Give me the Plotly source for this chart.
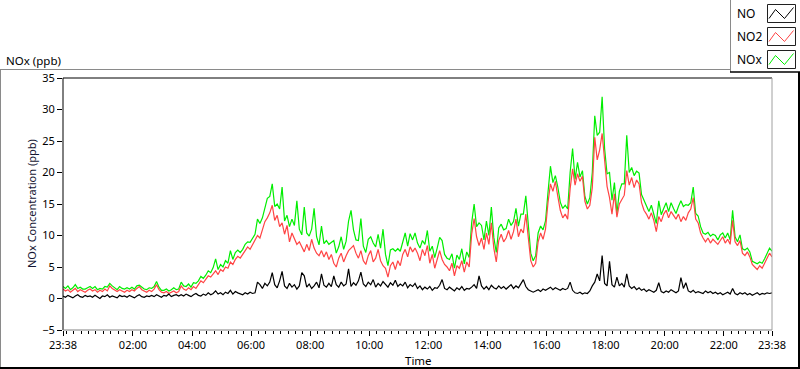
import pandas as pd
import plotly.graph_objects as go

# ---------------- data (5-minute samples, starting 23:38) ----------------
start_time = "2000-01-01 23:38"
sample_minutes = 5

no2_ppb = [
    1.5, 1.2, 1.4, 1.0, 1.3, 1.6, 1.1, 1.4, 1.2, 1.0, 1.3, 1.5,
    1.2, 1.4, 1.0, 1.3, 1.1, 1.5, 1.2, 2.0, 1.6, 1.3, 1.1, 1.4,
    1.2, 1.0, 1.3, 1.1, 1.4, 1.2, 1.6, 1.9, 1.4, 1.2, 1.0, 1.3,
    1.1, 1.5, 2.2, 1.4, 1.0, 0.9, 1.1, 0.8, 1.0, 1.2, 0.9, 1.1,
    2.0, 1.5, 1.3, 1.7, 1.4, 1.9, 1.6, 2.2, 2.8, 2.5, 3.1, 3.6,
    3.4, 4.0, 4.4, 3.8, 4.6, 4.3, 5.0, 4.8, 5.8, 5.4, 6.2, 6.7,
    6.4, 7.0, 7.6, 8.2, 7.8, 8.6, 9.2, 10.0, 9.6, 11.0, 12.2, 12.8,
    13.6, 14.8, 12.4, 13.2, 11.4, 12.0, 10.2, 11.6, 9.0, 10.4, 9.4, 8.6,
    9.0, 8.2, 7.4, 8.6, 7.6, 9.4, 8.0, 7.2, 6.8, 7.6, 6.6, 7.4,
    6.2, 7.0, 5.6, 5.0, 6.4, 7.2, 5.8, 6.8, 7.6, 8.0, 8.4, 7.2,
    6.4, 7.6, 6.0, 5.4, 6.8, 7.6, 5.8, 6.4, 7.8, 6.0, 5.2, 4.8,
    3.4, 5.2, 5.8, 4.6, 6.0, 5.2, 7.0, 7.8, 6.6, 8.2, 7.4, 8.0,
    7.2, 6.0, 7.8, 6.8, 8.4, 5.6, 7.0, 4.8, 6.4, 7.6, 6.2, 5.4,
    5.0, 4.4, 5.6, 3.6, 5.2, 4.8, 6.0, 4.2, 5.8, 5.0, 10.2, 12.7,
    9.8, 8.4, 9.6, 7.8, 10.4, 8.6, 12.0, 8.0, 5.8, 9.2, 10.2, 9.0,
    9.6, 10.8, 9.4, 10.6, 12.6, 9.8, 11.0, 10.4, 13.4, 9.6, 6.0, 5.0,
    5.6, 9.0, 10.4, 9.4, 11.0, 15.2, 18.2, 17.0, 18.6, 16.2, 14.0, 12.8,
    13.4, 12.6, 17.4, 20.6, 18.0, 19.8, 18.6, 19.4, 15.4, 14.2, 14.8, 17.6,
    25.6, 22.0, 23.6, 26.2, 21.4, 17.8, 16.0, 13.4, 16.6, 12.9, 15.0, 15.8,
    16.4, 20.3, 18.0, 19.2, 17.6, 18.8, 18.2, 15.2, 14.0, 13.4, 12.6, 13.6,
    12.4, 10.6, 13.0, 12.2, 13.4, 14.0, 12.8, 13.8, 13.2, 12.6, 13.4, 12.2,
    13.0, 12.4, 13.6, 14.2, 16.0, 12.6, 12.0, 10.4, 9.6, 9.0, 9.6, 8.8,
    9.4, 9.0, 8.6, 9.2, 9.8, 8.8, 9.4, 8.6, 12.4, 9.0, 8.4, 9.2,
    7.2, 6.8, 7.4, 6.6, 5.4, 5.0, 4.6, 5.2, 4.8, 5.6, 6.4, 7.2, 6.6,
]

nox_ppb = [
    1.9, 1.6, 2.0, 1.4, 1.7, 2.2, 1.6, 1.8, 1.5, 1.5, 1.7, 1.9,
    1.6, 1.9, 1.4, 1.6, 1.5, 1.9, 1.8, 2.4, 2.0, 1.7, 1.4, 1.9,
    1.6, 1.5, 1.7, 1.5, 1.8, 1.5, 2.0, 2.1, 1.8, 1.5, 1.4, 1.7,
    1.6, 1.9, 2.7, 1.8, 1.3, 1.3, 1.5, 1.2, 1.4, 1.7, 1.4, 1.5,
    2.6, 2.0, 1.9, 2.3, 1.8, 2.5, 2.4, 2.8, 3.5, 3.2, 3.7, 4.4,
    4.1, 4.9, 6.3, 4.6, 5.4, 5.0, 6.0, 5.6, 7.6, 6.2, 7.3, 7.7,
    7.3, 7.8, 8.6, 9.0, 8.9, 9.5, 10.2, 12.6, 11.9, 12.8, 14.6, 15.9,
    16.2, 18.2, 14.6, 15.0, 14.2, 17.7, 12.3, 13.2, 11.4, 12.6, 11.6, 15.5,
    11.0, 10.1, 14.5, 10.4, 9.9, 11.0, 14.3, 9.8, 8.5, 11.5, 8.7, 9.2,
    8.6, 8.9, 9.2, 7.2, 8.2, 9.8, 7.8, 9.1, 12.3, 14.0, 10.9, 9.3,
    9.2, 12.7, 8.3, 7.3, 9.4, 9.8, 8.8, 8.2, 10.2, 8.0, 11.0, 7.0,
    5.2, 7.7, 7.9, 7.5, 7.9, 7.5, 9.0, 10.4, 8.3, 10.3, 9.3, 10.4,
    8.8, 8.0, 9.2, 8.6, 10.8, 7.5, 8.3, 6.5, 8.0, 9.7, 9.2, 7.0,
    6.4, 6.2, 7.1, 4.8, 6.9, 6.2, 7.9, 5.5, 7.4, 6.5, 12.0, 15.0,
    11.4, 12.0, 11.6, 9.3, 12.3, 10.0, 14.5, 9.7, 7.3, 11.2, 11.8, 10.9,
    11.1, 12.6, 11.6, 12.2, 14.3, 11.5, 13.4, 13.4, 16.3, 11.0, 7.2, 6.0,
    6.8, 10.4, 11.5, 10.9, 12.3, 16.8, 21.0, 18.4, 19.5, 17.7, 15.3, 14.3,
    14.8, 14.2, 20.0, 23.8, 18.9, 21.6, 19.3, 20.3, 16.2, 15.0, 16.0, 20.0,
    29.0, 25.9, 26.4, 32.0, 23.8, 19.8, 20.0, 15.6, 18.4, 13.5, 17.0, 18.2,
    18.2, 25.9, 20.0, 20.8, 19.5, 20.2, 19.9, 16.5, 15.5, 14.5, 13.8, 14.8,
    13.4, 11.9, 15.5, 13.3, 14.3, 15.2, 13.8, 15.2, 14.3, 13.5, 14.6, 15.5,
    14.6, 14.9, 14.8, 15.2, 17.7, 13.5, 13.1, 11.4, 10.4, 10.2, 10.5, 9.9,
    10.2, 10.0, 9.3, 10.1, 10.4, 9.6, 10.4, 9.3, 14.0, 9.8, 9.0, 10.1,
    7.9, 7.7, 8.0, 7.4, 5.9, 5.7, 5.5, 5.8, 5.6, 6.3, 7.3, 8.0, 7.5,
]

no_ppb = [
    0.4, 0.2, 0.5, 0.3, 0.1, 0.4, 0.6, 0.3, 0.2, 0.5, 0.3, 0.4,
    0.2, 0.5, 0.3, 0.0, 0.4, 0.3, 0.6, 0.2, 0.4, 0.3, 0.1, 0.5,
    0.3, 0.4, 0.2, 0.5, 0.3, 0.1, 0.4, 0.6, 0.3, 0.2, 0.4, 0.3,
    0.5, 0.3, 0.6, 0.4, 0.2, 0.5, 0.4, 0.7, 0.3, 0.5, 0.6, 0.4,
    0.6, 0.4, 0.7, 0.5, 0.3, 0.6, 0.8, 0.5, 0.4, 0.7, 0.5, 0.9,
    0.6, 0.8, 1.2, 0.7, 0.9, 0.6, 1.0, 0.8, 1.3, 0.7, 1.1, 0.9,
    0.8, 0.6, 0.9, 0.7, 1.0, 0.8, 0.9, 2.6, 2.2, 1.6, 2.4, 2.0,
    2.6, 4.1, 2.2, 1.7, 2.8, 4.3, 2.0, 1.6, 2.4, 1.8, 2.2, 1.5,
    2.0, 4.1, 3.6, 1.8, 2.3, 1.6, 2.0, 2.6, 1.7, 3.9, 2.1, 1.8,
    2.4, 1.9, 3.6, 2.2, 1.8, 2.6, 2.0, 2.3, 4.7, 1.9, 2.5, 2.1,
    2.8, 4.2, 2.3, 1.9, 2.6, 2.2, 3.0, 1.8, 2.4, 2.0, 2.7, 2.2,
    1.8, 2.5, 2.1, 2.9, 1.9, 2.3, 2.0, 2.6, 1.7, 2.2, 1.9, 2.4,
    1.6, 2.0, 1.4, 1.8, 1.5, 1.9, 1.3, 1.7, 1.6, 2.1, 3.0, 1.6,
    1.4, 1.8, 1.5, 1.2, 1.7, 1.4, 1.9, 1.3, 1.6, 1.5, 1.8, 2.2,
    1.6, 3.6, 2.0, 1.5, 1.9, 1.4, 2.1, 1.7, 1.5, 2.0, 1.6, 1.9,
    1.5, 1.8, 2.2, 1.6, 2.0, 1.7, 2.4, 3.0, 1.9, 1.4, 1.2, 1.0,
    1.2, 1.4, 1.1, 1.5, 1.3, 1.6, 1.8, 1.4, 1.7, 1.5, 1.3, 1.6,
    1.4, 1.6, 2.6, 1.3, 0.9, 0.8, 1.0, 0.7, 0.9, 0.8, 1.2, 2.0,
    2.6, 3.9, 2.8, 6.8, 2.4, 2.0, 5.9, 2.2, 1.8, 3.4, 2.0, 2.4,
    1.8, 3.9, 2.0, 1.6, 1.9, 1.4, 1.7, 1.3, 1.5, 1.1, 1.4, 1.2,
    1.0, 1.3, 2.5, 1.1, 0.9, 1.2, 1.0, 1.4, 1.1, 0.9, 1.2, 3.3,
    1.6, 2.5, 1.2, 1.0, 1.3, 0.9, 1.1, 1.0, 0.8, 1.2, 0.9, 1.1,
    0.8, 1.0, 0.7, 0.9, 0.6, 0.8, 1.0, 0.7, 1.6, 0.8, 0.6, 0.9,
    0.7, 0.9, 0.6, 0.8, 0.5, 0.7, 0.9, 0.6, 0.8, 0.7, 0.9, 0.8, 0.9,
]

series_names = ["NO", "NO2", "NOx"]
x_tick_times = ["2000-01-01 23:38", "2000-01-02 02:00", "2000-01-02 04:00",
                "2000-01-02 06:00", "2000-01-02 08:00", "2000-01-02 10:00",
                "2000-01-02 12:00", "2000-01-02 14:00", "2000-01-02 16:00",
                "2000-01-02 18:00", "2000-01-02 20:00", "2000-01-02 22:00",
                "2000-01-02 23:38"]
x_tick_labels = ["23:38", "02:00", "04:00", "06:00", "08:00", "10:00", "12:00",
                 "14:00", "16:00", "18:00", "20:00", "22:00", "23:38"]
y_tick_values = [-5, 0, 5, 10, 15, 20, 25, 30, 35]

# ---------------- styling / layout ----------------
times = pd.date_range(start_time, periods=len(no2_ppb), freq=f"{sample_minutes}min")

W, H = 800, 369
L, R, T, B = 63, 772, 78, 330  # plot area in pixels
FONT = "Noto Sans"
COL = {"NO": "#000000", "NO2": "#ff4444", "NOx": "#00ee00"}


def px(x):
    return (x - L) / (R - L)


def py(y):
    return (B - y) / (B - T)


fig = go.Figure()
fig.add_trace(go.Scatter(x=times, y=nox_ppb, mode="lines", name="NOx",
                         line=dict(color=COL["NOx"], width=1.2)))
fig.add_trace(go.Scatter(x=times, y=no2_ppb, mode="lines", name="NO2",
                         line=dict(color=COL["NO2"], width=1.2)))
fig.add_trace(go.Scatter(x=times, y=no_ppb, mode="lines", name="NO",
                         line=dict(color=COL["NO"], width=1.2)))

shapes = []


def hline(x0, x1, y, color, w=1):
    shapes.append(dict(type="line", xref="paper", yref="paper",
                       x0=px(x0), x1=px(x1), y0=py(y), y1=py(y),
                       line=dict(color=color, width=w)))


def vline(x, y0, y1, color, w=1):
    shapes.append(dict(type="line", xref="paper", yref="paper",
                       x0=px(x), x1=px(x), y0=py(y0), y1=py(y1),
                       line=dict(color=color, width=w)))


# outer frame
hline(0, 730, 69.5, "#8a8a8a")
vline(0.5, 69.5, 369, "#8a8a8a")
hline(0, 800, 368, "#000000", 2)
vline(799, 72, 369, "#000000", 2)
# legend box frame
vline(730.5, 0, 72, "#8a8a8a")
hline(730, 800, 72, "#000000", 1.5)
# plot area frame
hline(L, R, T, "#000000")
vline(L, T, B, "#000000")
hline(L, R, B, "#808080")
vline(R, T, B, "#a0a0a0")

annotations = []
# legend swatches
legend_rows = [(13.5, "NO"), (36.5, "NO2"), (59.5, "NOx")]
for yc, name in legend_rows:
    shapes.append(dict(type="rect", xref="paper", yref="paper",
                       x0=px(767.5), x1=px(795.5), y0=py(yc - 9), y1=py(yc + 9),
                       line=dict(color="#202020", width=1), fillcolor="white"))
    pts = [(769, yc + 5), (775.5, yc - 4), (784.5, yc + 5), (793.5, yc - 6)]
    path = "M " + " L ".join(f"{px(a)},{py(b)}" for a, b in pts)
    shapes.append(dict(type="path", xref="paper", yref="paper", path=path,
                       line=dict(color=COL[name], width=1)))
    annotations.append(dict(text=name, xref="paper", yref="paper",
                            x=px(735), y=py(yc), xanchor="left", yanchor="middle",
                            showarrow=False, font=dict(family=FONT, size=12, color="#000")))

annotations.append(dict(text="NOx (ppb)", xref="paper", yref="paper",
                        x=px(4), y=py(60), xanchor="left", yanchor="middle",
                        showarrow=False, font=dict(family=FONT, size=11.5, color="#000")))
annotations.append(dict(text="NOx Concentration (ppb)", xref="paper", yref="paper",
                        x=px(31), y=py(204), xanchor="center", yanchor="middle",
                        textangle=-90, showarrow=False,
                        font=dict(family=FONT, size=11, color="#141432")))
annotations.append(dict(text="Time", xref="paper", yref="paper",
                        x=px(418), y=py(360), xanchor="center", yanchor="middle",
                        showarrow=False, font=dict(family=FONT, size=11.5, color="#000")))

fig.update_layout(
    width=W, height=H,
    margin=dict(l=L, r=W - R, t=T, b=H - B, pad=0),
    paper_bgcolor="white", plot_bgcolor="white",
    showlegend=False, hovermode=False,
    shapes=shapes, annotations=annotations,
    font=dict(family=FONT, size=11, color="#000"),
    xaxis=dict(
        type="date",
        range=[x_tick_times[0], x_tick_times[-1]],
        tickmode="array", tickvals=x_tick_times, ticktext=x_tick_labels,
        ticks="outside", ticklen=5, tickcolor="#000", tickwidth=1,
        showgrid=False, zeroline=False, showline=False,
        tickfont=dict(family=FONT, size=11, color="#000"),
        minor=dict(tickmode="linear", tick0="2000-01-01 23:45", dtick=15 * 60 * 1000,
                   ticks="outside", ticklen=3, tickcolor="#000", showgrid=False),
        fixedrange=True,
    ),
    yaxis=dict(
        range=[-5, 35],
        tickmode="array", tickvals=y_tick_values,
        ticks="outside", ticklen=5, tickcolor="#000", tickwidth=1,
        showgrid=False, zeroline=False, showline=False,
        tickfont=dict(family=FONT, size=11, color="#000"),
        fixedrange=True,
    ),
)

fig.write_html("out.html", config={"displayModeBar": False, "staticPlot": True},
               post_script="document.body.style.margin='0';document.body.style.overflow='hidden';")
